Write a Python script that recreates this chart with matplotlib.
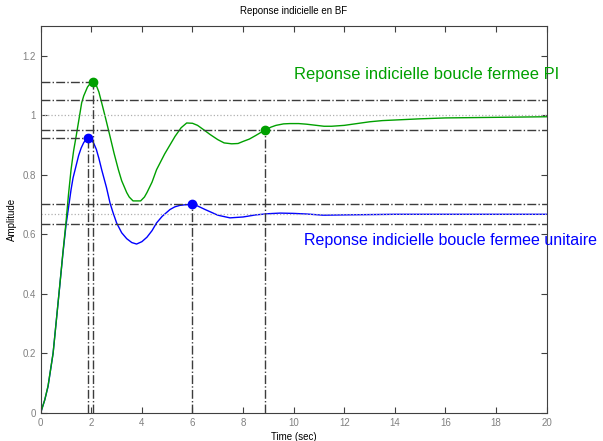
import numpy as np
import matplotlib.pyplot as plt

plt.rcParams['font.family'] = ['Liberation Sans', 'DejaVu Sans']

# unit feedback closed loop step response
t_bf = [0, 0.16, 0.29, 0.49, 0.62, 0.75, 0.88, 1.0, 1.1, 1.2, 1.28, 1.36, 1.5,
        1.6, 1.7, 1.8, 1.88, 1.95, 2.0, 2.1, 2.2, 2.3, 2.41, 2.6, 2.74, 2.85,
        3.0, 3.2, 3.4, 3.6, 3.79, 4.0, 4.2, 4.4, 4.58, 4.8, 5.11, 5.3, 5.5, 5.7,
        5.99, 6.2, 6.5, 7.0, 7.48, 8.0, 8.5, 9.0, 9.46, 10.0, 10.5, 11.17, 12,
        13, 14, 16, 18, 20]
y_bf = [0, 0.043, 0.088, 0.2, 0.312, 0.424, 0.537, 0.63, 0.69, 0.75, 0.79, 0.817,
        0.865, 0.89, 0.908, 0.92, 0.925, 0.923, 0.918, 0.905, 0.885, 0.855,
        0.817, 0.757, 0.705, 0.675, 0.638, 0.605, 0.585, 0.572, 0.567, 0.575,
        0.59, 0.612, 0.638, 0.66, 0.683, 0.692, 0.697, 0.699, 0.700, 0.695,
        0.683, 0.664, 0.655, 0.658, 0.665, 0.669, 0.671, 0.670, 0.668, 0.664,
        0.665, 0.666, 0.667, 0.667, 0.667, 0.667]

# PI closed loop step response
t_pi = [0, 0.16, 0.29, 0.49, 0.62, 0.75, 0.88, 1.0, 1.1, 1.2, 1.3, 1.4, 1.5,
        1.62, 1.7, 1.85, 1.95, 2.08, 2.2, 2.3, 2.41, 2.55, 2.74, 2.9, 3.07, 3.2,
        3.4, 3.5, 3.65, 3.95, 4.1, 4.2, 4.4, 4.58, 4.9, 5.31, 5.55, 5.77, 6.0,
        6.2, 6.43, 6.7, 7.0, 7.25, 7.55, 7.8, 8.0, 8.25, 8.5, 8.7, 8.88, 9.1,
        9.3, 9.6, 9.85, 10.2, 10.5, 10.8, 11.2, 11.5, 12, 12.5, 13, 13.5, 14,
        15, 16, 17, 18, 20]
y_pi = [0, 0.043, 0.09, 0.2, 0.312, 0.425, 0.54, 0.64, 0.735, 0.817, 0.88, 0.929,
        0.98, 1.042, 1.065, 1.095, 1.106, 1.111, 1.10, 1.078, 1.042, 0.995,
        0.929, 0.872, 0.817, 0.78, 0.74, 0.725, 0.712, 0.712, 0.725, 0.74, 0.775,
        0.817, 0.87, 0.929, 0.958, 0.974, 0.973, 0.966, 0.952, 0.935, 0.918,
        0.907, 0.904, 0.905, 0.912, 0.92, 0.932, 0.942, 0.950, 0.96, 0.966,
        0.971, 0.972, 0.972, 0.970, 0.967, 0.963, 0.963, 0.966, 0.972, 0.978,
        0.982, 0.984, 0.988, 0.991, 0.992, 0.993, 0.995]

# characteristic points (peak, settling)
bf_peak = (1.88, 0.925)
bf_settle = (5.99, 0.700)
pi_peak = (2.08, 1.111)
pi_settle = (8.88, 0.950)
bf_final = 0.667
pi_final = 1.0

green = '#00a000'
gray = '#3c3c3c'

fig = plt.figure(figsize=(6.03, 4.41), dpi=100)
ax = fig.add_axes([0.0675, 0.0642, 0.8391, 0.8768])

ax.plot(t_bf, y_bf, color='blue', lw=1)
ax.plot(t_pi, y_pi, color=green, lw=1)

# steady state (dotted) and +-5% bands (dash-dot)
for v in (pi_final, bf_final):
    ax.axhline(v, color='#b0b0b0', ls=':', lw=0.9)
for v in (pi_final * 1.05, pi_final * 0.95, bf_final * 1.05, bf_final * 0.95):
    ax.axhline(v, color=gray, ls='-.', lw=1)

# peak / settling guides
for (tp, yp) in (bf_peak, pi_peak):
    ax.plot([0, tp], [yp, yp], color=gray, ls='-.', lw=1)
for (tp, yp) in (bf_peak, pi_peak, bf_settle, pi_settle):
    ax.plot([tp, tp], [0, yp], color=gray, ls='-.', lw=1)

ax.plot(*bf_peak, 'o', color='blue', ms=6)
ax.plot(*bf_settle, 'o', color='blue', ms=6)
ax.plot(*pi_peak, 'o', color=green, ms=6)
ax.plot(*pi_settle, 'o', color=green, ms=6)

ax.text(10.0, 1.137, 'Reponse indicielle boucle fermee PI', color=green,
        fontsize=11.9, va='center', ha='left', clip_on=False)
ax.text(10.4, 0.578, 'Reponse indicielle boucle fermee unitaire', color='blue',
        fontsize=11.55, va='center', ha='left', clip_on=False)

ax.set_xlim(0, 20)
ax.set_ylim(0, 1.3)
ax.set_xticks(np.arange(0, 21, 2))
ax.set_yticks([0, 0.2, 0.4, 0.6, 0.8, 1.0, 1.2])
ax.set_yticklabels(['0', '0.2', '0.4', '0.6', '0.8', '1', '1.2'])
ax.tick_params(direction='in', top=True, right=True, labelsize=7,
               labelcolor='#808080', color='#404040', length=4)
for s in ax.spines.values():
    s.set_color('#404040')

ax.set_title('Reponse indicielle en BF', fontsize=7, pad=9)
ax.set_xlabel('Time (sec)', fontsize=7, labelpad=3)
ax.set_ylabel('Amplitude', fontsize=7, labelpad=4)

fig.savefig('out.png', dpi=100)
